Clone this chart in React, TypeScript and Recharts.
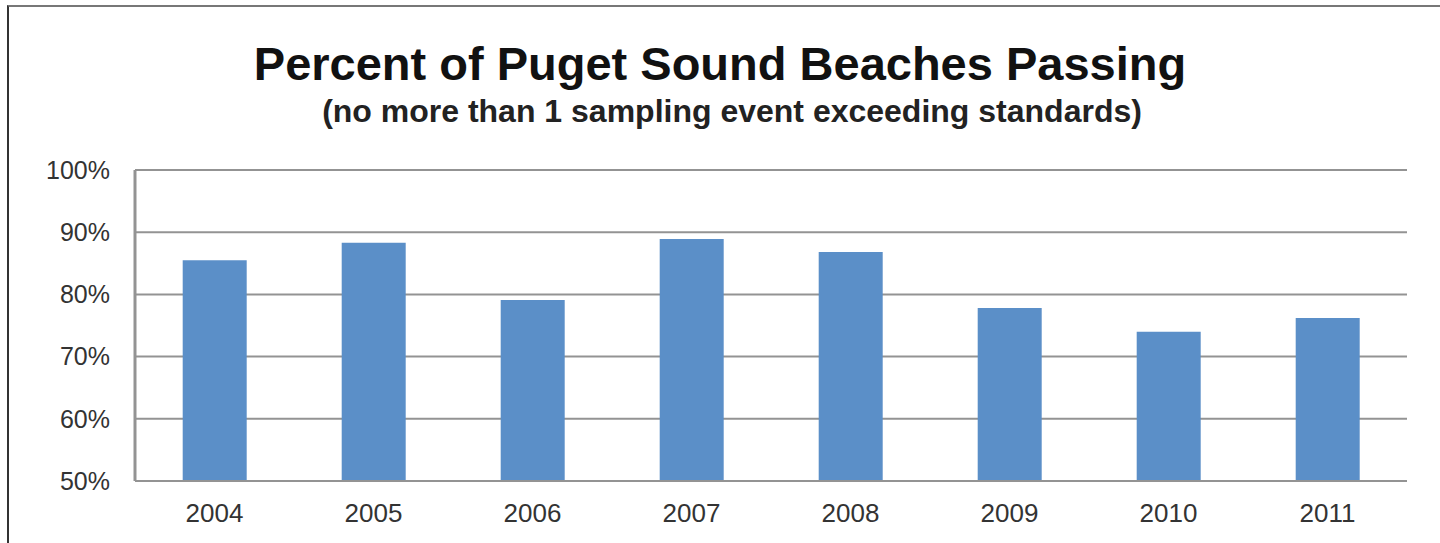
import { BarChart, Bar, XAxis, YAxis, CartesianGrid } from "recharts";

const years = ["2004", "2005", "2006", "2007", "2008", "2009", "2010", "2011"];
const passing = [85.5, 88.3, 79.1, 88.9, 86.8, 77.8, 74.0, 76.2];
const yTicks = [50, 60, 70, 80, 90, 100];

const rows = years.map((year, i) => ({ year, passing: passing[i] }));

const FONT = "'Liberation Sans', Arial, Helvetica, sans-serif";

export default function App() {
  return (
    <div
      style={{
        position: "absolute",
        left: 0,
        top: 0,
        width: 1440,
        height: 543,
        overflow: "hidden",
        background: "#fff",
        fontFamily: FONT,
      }}
    >
      {/* frame around the figure */}
      <div
        style={{
          position: "absolute",
          left: 7,
          top: 5,
          width: 1440,
          height: 600,
          borderTop: "2px solid #777",
          borderLeft: "2px solid #333",
        }}
      />
      <div
        style={{
          position: "absolute",
          left: 0,
          top: 40,
          width: 1440,
          textAlign: "center",
          fontSize: 47,
          lineHeight: "47px",
          fontWeight: 700,
          color: "#111",
        }}
      >
        Percent of Puget Sound Beaches Passing
      </div>
      <div
        style={{
          position: "absolute",
          left: 12,
          top: 95,
          width: 1440,
          textAlign: "center",
          fontSize: 32,
          lineHeight: "32px",
          fontWeight: 700,
          color: "#222",
        }}
      >
        (no more than 1 sampling event exceeding standards)
      </div>
      <div style={{ position: "absolute", left: 0, top: 0 }}>
        <BarChart
          width={1440}
          height={543}
          data={rows}
          margin={{ top: 170, right: 33, bottom: 0, left: 0 }}
          barCategoryGap="30%"
        >
          <CartesianGrid vertical={false} stroke="#939393" strokeWidth={2} />
          <XAxis
            dataKey="year"
            height={62}
            tickSize={0}
            tickMargin={23}
            axisLine={{ stroke: "#939393", strokeWidth: 2 }}
            tick={{ fill: "#333", fontSize: 26, fontFamily: FONT }}
          />
          <YAxis
            width={135}
            domain={[50, 100]}
            ticks={yTicks}
            allowDataOverflow
            tickFormatter={(v: number) => `${v}%`}
            tickSize={0}
            tickMargin={25}
            axisLine={{ stroke: "#939393", strokeWidth: 3 }}
            tick={{ fill: "#333", fontSize: 25, fontFamily: FONT }}
          />
          <Bar dataKey="passing" fill="#5b8fc8" isAnimationActive={false} />
        </BarChart>
      </div>
    </div>
  );
}
